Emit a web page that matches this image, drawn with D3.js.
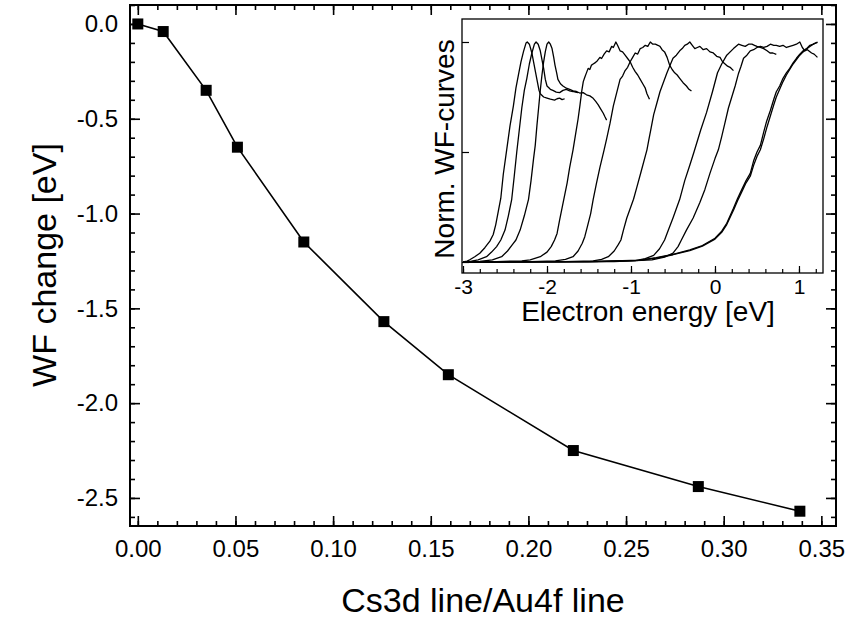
<!DOCTYPE html>
<html>
<head>
<meta charset="utf-8">
<script src="https://cdn.jsdelivr.net/npm/d3@7"></script>
<style>
body{margin:0;background:#fff;}
svg text{font-family:"Liberation Sans",Arial,sans-serif;fill:#000;}
</style>
</head>
<body>
<svg id="chart" width="867" height="624"></svg>
<script>
// main data: Cs3d/Au4f ratio vs work function change
var ratio = [0, 0.013, 0.035, 0.051, 0.085, 0.126, 0.159, 0.223, 0.287, 0.339];
var wfChange = [0, -0.04, -0.35, -0.65, -1.15, -1.57, -1.85, -2.25, -2.44, -2.57];
var xTicks = [0, 0.05, 0.10, 0.15, 0.20, 0.25, 0.30, 0.35];
var yTicks = [0, -0.5, -1.0, -1.5, -2.0, -2.5];

// inset: normalized WF curves [energy eV, norm. intensity]
var c1 = [[-3,0],[-2.95,0.004],[-2.92,0.01],[-2.86,0.024],[-2.8,0.04],[-2.74,0.065],[-2.68,0.095],[-2.64,0.125],[-2.61,0.17],[-2.58,0.23],[-2.55,0.29],[-2.52,0.4],[-2.48,0.51],[-2.44,0.62],[-2.4,0.71],[-2.37,0.79],[-2.34,0.85],[-2.31,0.91],[-2.28,0.956],[-2.25,0.995],[-2.235,1.0],[-2.21,0.99],[-2.18,0.95],[-2.16,0.91],[-2.135,0.86],[-2.115,0.82],[-2.095,0.78],[-2.08,0.765],[-2.04,0.75],[-2.0,0.745],[-1.96,0.74],[-1.91,0.736],[-1.88,0.742],[-1.85,0.745],[-1.82,0.738],[-1.79,0.742]];
var c2 = [[-3,0],[-2.9,0.004],[-2.82,0.01],[-2.72,0.024],[-2.66,0.045],[-2.6,0.07],[-2.55,0.1],[-2.5,0.145],[-2.46,0.21],[-2.42,0.285],[-2.39,0.39],[-2.36,0.5],[-2.33,0.6],[-2.3,0.7],[-2.27,0.78],[-2.24,0.835],[-2.21,0.9],[-2.18,0.95],[-2.15,0.99],[-2.13,1.0],[-2.105,0.99],[-2.08,0.96],[-2.06,0.92],[-2.04,0.88],[-2.02,0.83],[-2.0,0.8],[-1.96,0.785],[-1.93,0.78],[-1.89,0.772],[-1.85,0.77],[-1.81,0.78],[-1.77,0.785],[-1.73,0.778],[-1.69,0.775],[-1.66,0.772],[-1.63,0.77]];
var c3 = [[-3,0],[-2.8,0.003],[-2.65,0.01],[-2.54,0.024],[-2.47,0.05],[-2.41,0.08],[-2.37,0.1],[-2.32,0.145],[-2.27,0.21],[-2.22,0.285],[-2.19,0.37],[-2.16,0.47],[-2.14,0.53],[-2.12,0.62],[-2.1,0.7],[-2.08,0.78],[-2.06,0.85],[-2.04,0.91],[-2.02,0.956],[-2.0,0.99],[-1.98,1.0],[-1.96,0.99],[-1.94,0.97],[-1.92,0.93],[-1.905,0.895],[-1.885,0.86],[-1.87,0.83],[-1.84,0.81],[-1.81,0.8],[-1.77,0.79],[-1.73,0.785],[-1.69,0.778],[-1.65,0.775],[-1.61,0.768],[-1.57,0.77],[-1.53,0.76],[-1.49,0.755],[-1.45,0.744],[-1.42,0.73],[-1.39,0.714],[-1.36,0.695],[-1.33,0.676],[-1.31,0.66],[-1.29,0.645]];
var c4 = [[-3,0],[-2.6,0.002],[-2.3,0.005],[-2.2,0.01],[-2.08,0.024],[-2.0,0.045],[-1.95,0.07],[-1.91,0.1],[-1.88,0.13],[-1.85,0.19],[-1.8,0.285],[-1.76,0.36],[-1.73,0.43],[-1.69,0.51],[-1.66,0.58],[-1.63,0.65],[-1.607,0.714],[-1.585,0.78],[-1.568,0.82],[-1.55,0.84],[-1.535,0.855],[-1.51,0.88],[-1.49,0.875],[-1.47,0.895],[-1.45,0.9],[-1.43,0.905],[-1.4,0.915],[-1.37,0.93],[-1.35,0.925],[-1.32,0.945],[-1.29,0.96],[-1.26,0.955],[-1.23,0.98],[-1.21,0.975],[-1.18,1.0],[-1.16,0.985],[-1.13,0.96],[-1.1,0.955],[-1.07,0.94],[-1.04,0.925],[-1.01,0.91],[-0.98,0.885],[-0.95,0.865],[-0.92,0.85],[-0.89,0.83],[-0.86,0.81],[-0.83,0.79],[-0.81,0.765],[-0.78,0.74]];
var c5 = [[-3,0],[-2.2,0.002],[-1.9,0.005],[-1.78,0.012],[-1.69,0.024],[-1.63,0.05],[-1.58,0.085],[-1.55,0.115],[-1.52,0.16],[-1.48,0.22],[-1.45,0.285],[-1.41,0.36],[-1.37,0.43],[-1.32,0.51],[-1.29,0.56],[-1.25,0.63],[-1.21,0.71],[-1.17,0.77],[-1.13,0.83],[-1.1,0.845],[-1.07,0.87],[-1.04,0.885],[-1.01,0.91],[-0.98,0.93],[-0.95,0.95],[-0.92,0.945],[-0.89,0.97],[-0.86,0.975],[-0.83,0.985],[-0.8,0.98],[-0.77,1.0],[-0.74,0.99],[-0.71,0.99],[-0.68,0.985],[-0.655,0.98],[-0.63,0.965],[-0.6,0.955],[-0.57,0.93],[-0.54,0.895],[-0.51,0.875],[-0.48,0.86],[-0.45,0.85],[-0.42,0.835],[-0.38,0.815],[-0.34,0.8],[-0.31,0.785],[-0.28,0.777]];
var c6 = [[-3,0],[-1.8,0.002],[-1.45,0.005],[-1.35,0.012],[-1.27,0.024],[-1.2,0.05],[-1.15,0.08],[-1.12,0.1],[-1.09,0.145],[-1.05,0.2],[-0.97,0.285],[-0.93,0.34],[-0.88,0.41],[-0.81,0.51],[-0.79,0.55],[-0.76,0.61],[-0.73,0.67],[-0.69,0.725],[-0.655,0.774],[-0.62,0.81],[-0.575,0.857],[-0.54,0.89],[-0.5,0.926],[-0.46,0.94],[-0.42,0.96],[-0.39,0.97],[-0.36,0.985],[-0.33,0.99],[-0.3,1.0],[-0.27,0.985],[-0.24,0.97],[-0.21,0.975],[-0.18,0.98],[-0.14,0.965],[-0.1,0.97],[-0.06,0.955],[-0.02,0.95],[0.02,0.935],[0.06,0.93],[0.09,0.91],[0.12,0.9],[0.15,0.89],[0.18,0.885],[0.22,0.87]];
var c7 = [[-3,0],[-1.4,0.002],[-0.95,0.006],[-0.83,0.015],[-0.73,0.03],[-0.66,0.06],[-0.6,0.1],[-0.555,0.145],[-0.5,0.2],[-0.42,0.285],[-0.36,0.37],[-0.3,0.44],[-0.25,0.5],[-0.17,0.6],[-0.1,0.68],[-0.03,0.774],[0.03,0.86],[0.08,0.9],[0.14,0.94],[0.22,0.97],[0.28,0.99],[0.32,0.985],[0.36,0.98],[0.4,0.99],[0.44,0.99],[0.47,0.985],[0.5,0.98],[0.54,0.975],[0.58,0.97],[0.62,0.96],[0.655,0.95],[0.69,0.95],[0.73,0.944]];
var c8 = [[-3,0],[-1.2,0.002],[-0.75,0.01],[-0.6,0.022],[-0.5,0.04],[-0.44,0.07],[-0.4,0.1],[-0.34,0.145],[-0.26,0.2],[-0.18,0.27],[-0.12,0.33],[-0.06,0.403],[0.0,0.47],[0.04,0.51],[0.08,0.57],[0.12,0.635],[0.16,0.7],[0.2,0.75],[0.24,0.8],[0.28,0.857],[0.31,0.89],[0.34,0.926],[0.38,0.94],[0.42,0.96],[0.46,0.965],[0.5,0.975],[0.54,0.98],[0.58,0.975],[0.62,0.98],[0.66,0.99],[0.7,0.985],[0.73,0.985],[0.77,0.98],[0.81,0.985],[0.85,0.975],[0.89,0.98],[0.93,0.985],[0.97,0.99],[1.01,1.0],[1.04,0.975],[1.07,0.96],[1.1,0.965],[1.15,0.95],[1.18,0.945],[1.22,0.93]];
var c9 = [[-3,0],[-1.5,0.002],[-0.9,0.008],[-0.7,0.02],[-0.5,0.035],[-0.3,0.055],[-0.15,0.075],[0.0,0.108],[0.08,0.14],[0.14,0.176],[0.22,0.244],[0.27,0.29],[0.32,0.33],[0.37,0.37],[0.42,0.403],[0.46,0.46],[0.5,0.5],[0.54,0.53],[0.58,0.59],[0.615,0.64],[0.66,0.69],[0.7,0.74],[0.73,0.774],[0.77,0.8],[0.81,0.835],[0.85,0.86],[0.89,0.88],[0.93,0.905],[0.97,0.926],[1.01,0.945],[1.05,0.96],[1.09,0.97],[1.13,0.985],[1.17,0.99],[1.22,1.0]];
var c10 = [[-3,0],[-1.5,0.002],[-0.9,0.007],[-0.7,0.018],[-0.5,0.033],[-0.3,0.052],[-0.15,0.072],[0.0,0.104],[0.08,0.135],[0.14,0.17],[0.22,0.235],[0.27,0.28],[0.32,0.32],[0.37,0.36],[0.42,0.39],[0.46,0.44],[0.5,0.48],[0.54,0.51],[0.58,0.56],[0.62,0.615],[0.66,0.665],[0.7,0.715],[0.73,0.75],[0.77,0.785],[0.81,0.82],[0.85,0.85],[0.89,0.875],[0.93,0.9],[0.97,0.92],[1.01,0.94],[1.05,0.955],[1.09,0.968],[1.13,0.98],[1.17,0.99],[1.22,0.998]];
var curves = [c1, c2, c3, c4, c5, c6, c7, c8, c9, c10];
var insetXTicks = [-3, -2, -1, 0, 1];

var svg = d3.select("#chart");

//----- main plot -----
var L = 130, R = 836, T = 5, B = 526;
var x = d3.scaleLinear().domain([-0.004, 0.3575]).range([L, R]);
var y = d3.scaleLinear().domain([-2.648, 0.1]).range([B, T]);

var xMinor = d3.range(0, 0.351, 0.01);
var yMinor = d3.range(-2.6, 0.101, 0.1);

// bottom axis with labels, ticks pointing inward
svg.append("g").attr("transform", "translate(0," + B + ")")
   .call(d3.axisBottom(x).tickValues(xMinor).tickSize(-5).tickFormat(""));
svg.append("g").attr("class", "xlab").attr("transform", "translate(0," + B + ")")
   .call(d3.axisBottom(x).tickValues(xTicks).tickSize(-10).tickPadding(14).tickFormat(d3.format(".2f")));
// top
svg.append("g").attr("transform", "translate(0," + T + ")")
   .call(d3.axisTop(x).tickValues(xMinor).tickSize(-5).tickFormat(""));
svg.append("g").attr("transform", "translate(0," + T + ")")
   .call(d3.axisTop(x).tickValues(xTicks).tickSize(-10).tickFormat(""));
// left
svg.append("g").attr("transform", "translate(" + L + ",0)")
   .call(d3.axisLeft(y).tickValues(yMinor).tickSize(-5).tickFormat(""));
svg.append("g").attr("class", "ylab").attr("transform", "translate(" + L + ",0)")
   .call(d3.axisLeft(y).tickValues(yTicks).tickSize(-10).tickPadding(12).tickFormat(d3.format(".1f")));
// right
svg.append("g").attr("transform", "translate(" + R + ",0)")
   .call(d3.axisRight(y).tickValues(yMinor).tickSize(-5).tickFormat(""));
svg.append("g").attr("transform", "translate(" + R + ",0)")
   .call(d3.axisRight(y).tickValues(yTicks).tickSize(-10).tickFormat(""));

svg.selectAll(".domain").remove();
svg.selectAll(".tick line").attr("stroke", "#000").attr("stroke-width", 1.6);
svg.selectAll(".xlab, .ylab").attr("font-size", null).attr("font-family", null);
svg.selectAll(".xlab text, .ylab text").style("font-size", "24px");
// minus sign as plain hyphen like the original
svg.selectAll(".ylab text").text(function(d){ return d3.format(".1f")(d).replace("\u2212", "-"); });

svg.append("rect").attr("x", L).attr("y", T).attr("width", R - L).attr("height", B - T)
   .attr("fill", "none").attr("stroke", "#000").attr("stroke-width", 2);

var pts = ratio.map(function(d, i){ return [d, wfChange[i]]; });
svg.append("path").datum(pts)
   .attr("fill", "none").attr("stroke", "#000").attr("stroke-width", 1.6)
   .attr("d", d3.line().x(function(d){ return x(d[0]); }).y(function(d){ return y(d[1]); }));
svg.selectAll("rect.pt").data(pts).enter().append("rect").attr("class", "pt")
   .attr("x", function(d){ return x(d[0]) - 5.5; })
   .attr("y", function(d){ return y(d[1]) - 5.5; })
   .attr("width", 11).attr("height", 11).attr("fill", "#000");

// axis titles
svg.append("text").attr("x", 483).attr("y", 612).attr("text-anchor", "middle")
   .style("font-size", "34px").text("Cs3d line/Au4f line");
svg.append("text").attr("transform", "translate(56,265) rotate(-90)").attr("text-anchor", "middle")
   .style("font-size", "34px").text("WF change [eV]");

//----- inset -----
var iL = 462, iR = 823, iT = 19, iB = 273;
var ix = d3.scaleLinear().domain([-3.012, 1.286]).range([iL, iR]);
var iy = d3.scaleLinear().domain([-0.05, 1.1045]).range([iB, iT]);

svg.append("rect").attr("x", iL).attr("y", iT).attr("width", iR - iL).attr("height", iB - iT)
   .attr("fill", "#fff");

var inset = svg.append("g");
inset.append("g").attr("transform", "translate(0," + iB + ")")
   .call(d3.axisBottom(ix).tickValues(d3.range(-3, 1.21, 0.2)).tickSize(-4).tickFormat(""));
inset.append("g").attr("class", "ixlab").attr("transform", "translate(0," + iB + ")")
   .call(d3.axisBottom(ix).tickValues(insetXTicks).tickSize(-7).tickPadding(6).tickFormat(function(d){ return String(d); }));
inset.append("g").attr("transform", "translate(" + iL + ",0)")
   .call(d3.axisLeft(iy).tickValues([0, 0.5, 1]).tickSize(-7).tickFormat(""));
inset.selectAll(".domain").remove();
inset.selectAll(".tick line").attr("stroke", "#000").attr("stroke-width", 1.2);
inset.selectAll(".ixlab").attr("font-size", null).attr("font-family", null);
inset.selectAll(".ixlab text").style("font-size", "21px");

var iline = d3.line().x(function(d){ return ix(d[0]); }).y(function(d){ return iy(d[1]); });
inset.selectAll("path.wf").data(curves).enter().append("path").attr("class", "wf")
   .attr("fill", "none").attr("stroke", "#000").attr("stroke-width", 1.3)
   .attr("stroke-linejoin", "round").attr("d", iline);

svg.append("rect").attr("x", iL).attr("y", iT).attr("width", iR - iL).attr("height", iB - iT)
   .attr("fill", "none").attr("stroke", "#000").attr("stroke-width", 1.3);

svg.append("text").attr("x", 648).attr("y", 321).attr("text-anchor", "middle")
   .style("font-size", "28px").text("Electron energy [eV]");
svg.append("text").attr("transform", "translate(454,149) rotate(-90)").attr("text-anchor", "middle")
   .style("font-size", "28px").text("Norm. WF-curves");
</script>
</body>
</html>
